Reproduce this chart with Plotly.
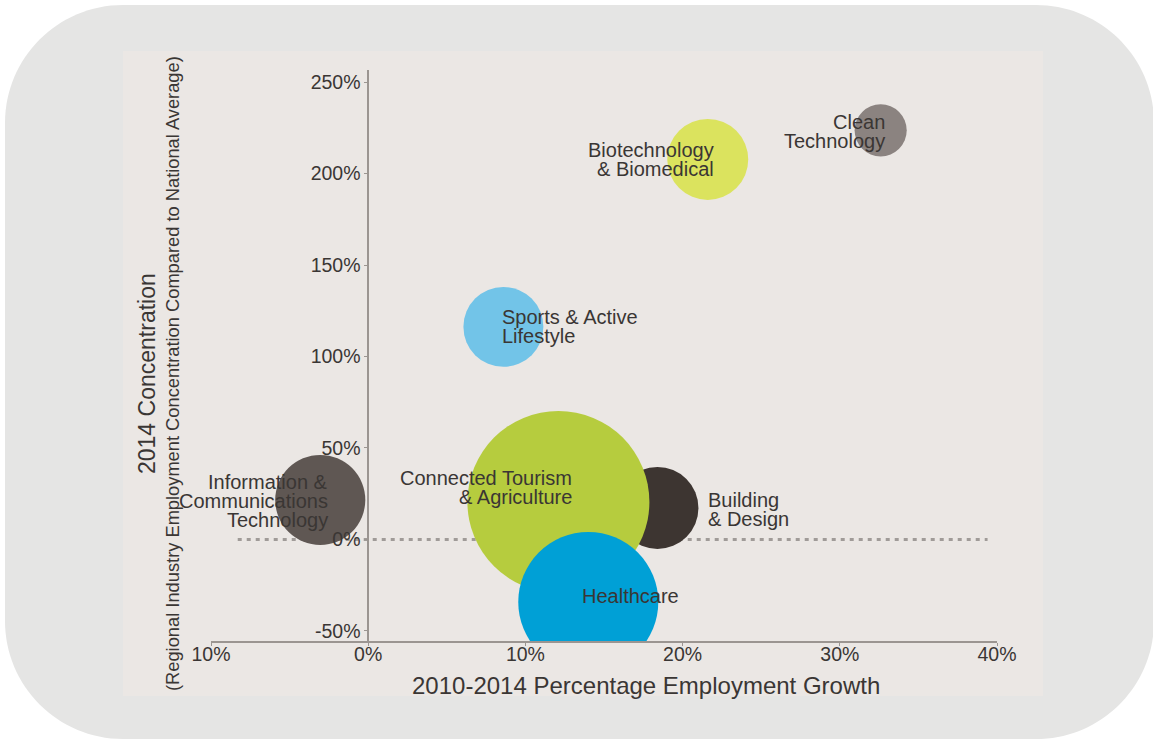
import plotly.graph_objects as go

# ---- data -------------------------------------------------------------
clusters = [
    "Information & Communications Technology",
    "Sports & Active Lifestyle",
    "Biotechnology & Biomedical",
    "Clean Technology",
    "Building & Design",
    "Connected Tourism & Agriculture",
    "Healthcare",
]
growth_pct = [-3.05, 8.6, 21.6, 32.6, 18.4, 12.1, 14.0]          # 2010-2014 employment growth
concentration_pct = [21.6, 116.2, 207.7, 223.6, 17.2, 20.5, -34.2]  # 2014 concentration vs national
relative_size = [0.245, 0.193, 0.198, 0.082, 0.203, 1.0, 0.592]    # bubble area, relative to largest

x_tick_vals = [-10, 0, 10, 20, 30, 40]
x_tick_text = ["10%", "0%", "10%", "20%", "30%", "40%"]
y_tick_vals = [-50, 0, 50, 100, 150, 200, 250]
y_tick_text = ["-50%", "0%", "50%", "100%", "150%", "200%", "250%"]
national_average = 0

# ---- styling ------------------------------------------------------------
colors = ["#5f5753", "#72c4e8", "#dbe35e", "#8b8380", "#3d3531", "#b6cc3e", "#00a0d6"]
label_lines = [
    ["Information &", "Communications", "Technology"],
    ["Sports & Active", "Lifestyle"],
    ["Biotechnology", "& Biomedical"],
    ["Clean", "Technology"],
    ["Building", "& Design"],
    ["Connected Tourism", "& Agriculture"],
    ["Healthcare"],
]
# (anchor, x shift px, first-line offset below bubble centre px)
label_style = [
    ("right", 10, -18),
    ("left", -3, -10),
    ("right", 8, -9.5),
    ("right", 6, -8.5),
    ("left", 49, -8),
    ("right", 16, -24),
    ("left", -8, -6),
]
LINE_STEP = 19

FONT = "Liberation Sans, Arial, Helvetica, sans-serif"
TEXT = "#3a3634"
AXIS = "#9b9591"

W, H = 1153, 740
L, R, T, B = 211, 997, 70, 641
X_RANGE = [-10, 40]
Y_RANGE = [-55.5, 256.6]
MAX_DIAM = 182


def to_paper(px, py):
    return (px - L) / (R - L), (B - py) / (B - T)


def rounded_rect(x0, y0, x1, y1, r):
    k = 0.5523 * r

    def p(x, y):
        a, b = to_paper(x, y)
        return f"{a:.5f},{b:.5f}"

    d = f"M {p(x0 + r, y0)} L {p(x1 - r, y0)} "
    d += f"C {p(x1 - r + k, y0)} {p(x1, y0 + r - k)} {p(x1, y0 + r)} "
    d += f"L {p(x1, y1 - r)} "
    d += f"C {p(x1, y1 - r + k)} {p(x1 - r + k, y1)} {p(x1 - r, y1)} "
    d += f"L {p(x0 + r, y1)} "
    d += f"C {p(x0 + r - k, y1)} {p(x0, y1 - r + k)} {p(x0, y1 - r)} "
    d += f"L {p(x0, y0 + r)} "
    d += f"C {p(x0, y0 + r - k)} {p(x0 + r - k, y0)} {p(x0 + r, y0)} Z"
    return d


fig = go.Figure()

# national-average reference line
fig.add_trace(go.Scatter(
    x=[-8.3, 39.4], y=[national_average, national_average],
    mode="lines", line=dict(color="#a09b98", width=3, dash="4px,5px"),
    hoverinfo="skip", showlegend=False,
))

# one bubble per cluster, drawn in list order so later ones sit on top
for name, gx, cy, s, c in zip(clusters, growth_pct, concentration_pct, relative_size, colors):
    fig.add_trace(go.Scatter(
        x=[gx], y=[cy], mode="markers", name=name,
        marker=dict(size=[s], sizemode="area", sizeref=2.0 / MAX_DIAM ** 2,
                    color=c, line=dict(width=0), opacity=1),
        showlegend=False,
    ))

# cluster names, one annotation per line for tight leading
annotations = []
for gx, cy, lines, (anchor, xs, y0) in zip(growth_pct, concentration_pct, label_lines, label_style):
    for i, line in enumerate(lines):
        annotations.append(dict(
            x=gx, y=cy, xref="x", yref="y", text=line, showarrow=False,
            xanchor=anchor, yanchor="middle", xshift=xs, yshift=-(y0 + i * LINE_STEP),
            font=dict(family=FONT, size=20, color=TEXT),
        ))

# axis titles
tx, ty = to_paper(646, 685)
annotations.append(dict(
    x=tx, y=ty, xref="paper", yref="paper", showarrow=False,
    text="2010-2014 Percentage Employment Growth",
    xanchor="center", yanchor="middle",
    font=dict(family=FONT, size=24, color=TEXT),
))
ax1, ay1 = to_paper(147, 374)
annotations.append(dict(
    x=ax1, y=ay1, xref="paper", yref="paper", showarrow=False,
    text="2014 Concentration", textangle=-90,
    xanchor="center", yanchor="middle",
    font=dict(family=FONT, size=23, color=TEXT),
))
ax2, ay2 = to_paper(172, 374)
annotations.append(dict(
    x=ax2, y=ay2, xref="paper", yref="paper", showarrow=False,
    text="(Regional Industry Employment Concentration Compared to National Average)",
    textangle=-90, xanchor="center", yanchor="middle",
    font=dict(family=FONT, size=18.3, color=TEXT),
))

shapes = [
    dict(type="path", xref="paper", yref="paper", layer="below",
         path=rounded_rect(5, 5, 1154, 739, 118),
         fillcolor="#e5e5e4", line=dict(width=0)),
    dict(type="rect", xref="paper", yref="paper", layer="below",
         x0=to_paper(123, 51)[0], y0=to_paper(123, 696)[1],
         x1=to_paper(1043, 51)[0], y1=to_paper(123, 51)[1],
         fillcolor="#ebe7e4", line=dict(width=0)),
]

y_axis_pos = (0 - X_RANGE[0]) / (X_RANGE[1] - X_RANGE[0])

fig.update_layout(
    width=W, height=H,
    margin=dict(l=L, r=W - R, t=T, b=H - B, pad=0),
    paper_bgcolor="#ffffff",
    plot_bgcolor="rgba(0,0,0,0)",
    showlegend=False,
    font=dict(family=FONT, color=TEXT),
    xaxis=dict(
        range=X_RANGE, tickvals=x_tick_vals, ticktext=x_tick_text,
        showline=True, linecolor=AXIS, linewidth=1.5,
        ticks="outside", ticklen=3, tickcolor=AXIS, tickwidth=1.2,
        ticklabelstandoff=-8,
        showgrid=False, zeroline=False,
        tickfont=dict(family=FONT, size=19.5, color=TEXT),
        fixedrange=True,
    ),
    yaxis=dict(
        range=Y_RANGE, tickvals=y_tick_vals, ticktext=y_tick_text,
        anchor="free", position=y_axis_pos,
        showline=True, linecolor=AXIS, linewidth=1.5,
        ticks="outside", ticklen=3, tickcolor=AXIS, tickwidth=1.2,
        showgrid=False, zeroline=False,
        tickfont=dict(family=FONT, size=19.5, color=TEXT),
        fixedrange=True,
    ),
    annotations=annotations,
    shapes=shapes,
)

fig.write_html("out.html")
